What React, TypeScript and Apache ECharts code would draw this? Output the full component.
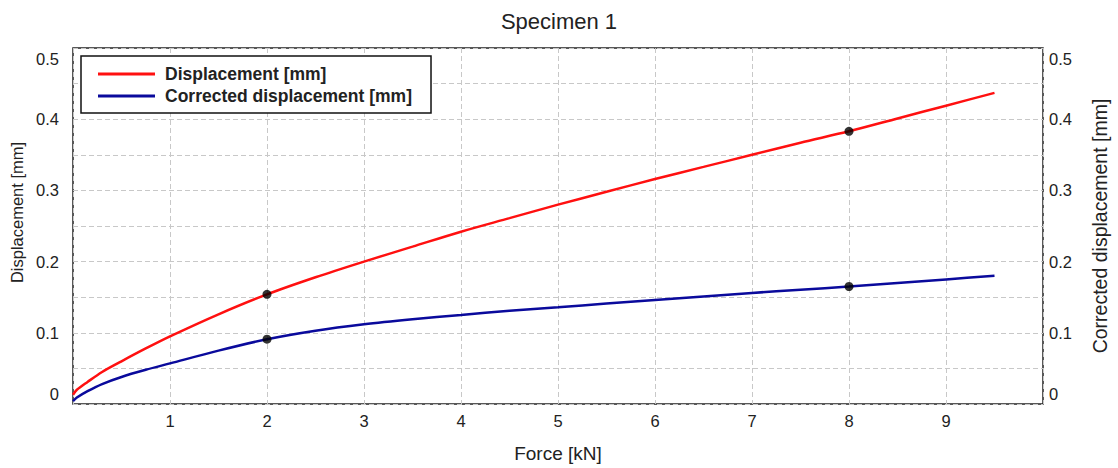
import React, { useEffect, useRef } from 'react';
import * as echarts from 'echarts';

// Force [kN] sample positions along both curves
const forces = [0, 0.04, 0.15, 0.3, 0.5, 0.75, 1, 1.5, 2, 2.5, 3, 3.5, 4, 4.5, 5, 5.5, 6, 6.5, 7, 7.5, 8, 8.5, 9, 9.5];
// Displacement [mm] (red)
const displacement = [0.013, 0.020, 0.031, 0.045, 0.060, 0.078, 0.095, 0.126, 0.154, 0.178, 0.200, 0.221, 0.242, 0.261, 0.280, 0.298, 0.316, 0.333, 0.350, 0.367, 0.383, 0.401, 0.419, 0.437];
// Corrected displacement [mm] (blue)
const corrected = [0.004, 0.009, 0.018, 0.028, 0.038, 0.048, 0.057, 0.075, 0.091, 0.103, 0.112, 0.119, 0.125, 0.131, 0.136, 0.141, 0.146, 0.151, 0.156, 0.1605, 0.165, 0.170, 0.175, 0.180];
// Highlighted points
const markerForces = [2, 8];
const displacementMarkers = [0.154, 0.383];
const correctedMarkers = [0.091, 0.165];

const seriesNames = ['Displacement [mm]', 'Corrected displacement [mm]'];

const FONT = "'Liberation Sans', Arial, Helvetica, sans-serif";
const TEXT = '#222';
const gridLine = { show: true, lineStyle: { color: '#c8c8c8', width: 1, type: [5, 3] as number[] } };

const yLabel = (v: number) => {
  const r = Math.round(v * 100);
  if (r % 10 !== 0) return '';
  if (r === 0) return '0\n ';
  if (r === 50) return ' \n0.5';
  return String(r / 100);
};
const xLabel = (v: number) => (v === 0 || v === 10 ? '' : String(v));

export default function App() {
  const ref = useRef<HTMLDivElement>(null);
  useEffect(() => {
    if (!ref.current) return;
    const chart = echarts.init(ref.current, undefined, { renderer: 'svg' });
    const labelStyle = { fontFamily: FONT, fontSize: 16.5, color: TEXT };
    chart.setOption({
      animation: false,
      backgroundColor: '#fff',
      title: {
        text: 'Specimen 1',
        left: 'center',
        top: 10,
        padding: 0,
        textStyle: { fontFamily: FONT, fontSize: 22, fontWeight: 'normal', color: TEXT },
      },
      grid: {
        left: 73, right: 73, top: 48, bottom: 61,
        show: true, borderColor: '#222', borderWidth: 1.5, backgroundColor: 'transparent',
      },
      legend: {
        data: seriesNames,
        orient: 'vertical',
        left: 81,
        top: 56,
        padding: [7, 19, 6, 17],
        itemGap: 0,
        itemWidth: 57,
        itemHeight: 3,
        icon: 'rect',
        backgroundColor: '#fff',
        borderColor: '#111',
        borderWidth: 1.5,
        borderRadius: 0,
        textStyle: { fontFamily: FONT, fontSize: 17.5, fontWeight: 'bold', color: TEXT, lineHeight: 22, padding: [0, 0, 0, 5] },
      },
      xAxis: {
        type: 'value', min: 0, max: 10, interval: 1,
        name: 'Force [kN]', nameLocation: 'middle', nameGap: 40,
        nameTextStyle: { fontFamily: FONT, fontSize: 19, color: TEXT },
        axisLine: { show: false }, axisTick: { show: false },
        axisLabel: { ...labelStyle, margin: 8, formatter: xLabel, showMinLabel: true, showMaxLabel: true },
        splitLine: gridLine,
      },
      yAxis: [
        {
          type: 'value', min: 0, max: 0.5, interval: 0.05, position: 'left',
          name: 'Displacement [mm]', nameLocation: 'middle', nameGap: 46,
          nameTextStyle: { fontFamily: FONT, fontSize: 16.5, color: TEXT, padding: [0, 0, 0, 27] },
          axisLine: { show: false }, axisTick: { show: false },
          axisLabel: { ...labelStyle, margin: 14, lineHeight: 21, formatter: yLabel, showMinLabel: true, showMaxLabel: true },
          splitLine: gridLine,
        },
        {
          type: 'value', min: 0, max: 0.5, interval: 0.05, position: 'right',
          name: 'Corrected displacement [mm]', nameLocation: 'middle', nameGap: 47,
          nameTextStyle: { fontFamily: FONT, fontSize: 19.5, color: TEXT },
          axisLine: { show: false }, axisTick: { show: false },
          axisLabel: { ...labelStyle, margin: 6, lineHeight: 21, formatter: yLabel, showMinLabel: true, showMaxLabel: true },
          splitLine: { show: false },
        },
      ],
      series: [
        {
          name: seriesNames[0], type: 'line', yAxisIndex: 0,
          data: forces.map((f, i) => [f, displacement[i]]),
          smooth: 0.3, symbol: 'none',
          lineStyle: { color: '#ff1010', width: 2.5 }, itemStyle: { color: '#ff1010' }, z: 3,
        },
        {
          name: seriesNames[1], type: 'line', yAxisIndex: 1,
          data: forces.map((f, i) => [f, corrected[i]]),
          smooth: 0.3, symbol: 'none',
          lineStyle: { color: '#0a0a9c', width: 2.5 }, itemStyle: { color: '#0a0a9c' }, z: 3,
        },
        {
          type: 'scatter', yAxisIndex: 0,
          data: markerForces.map((f, i) => [f, displacementMarkers[i]]),
          symbolSize: 9, itemStyle: { color: '#000' }, z: 5,
        },
        {
          type: 'scatter', yAxisIndex: 1,
          data: markerForces.map((f, i) => [f, correctedMarkers[i]]),
          symbolSize: 9, itemStyle: { color: '#000' }, z: 5,
        },
      ],
    });
    return () => chart.dispose();
  }, []);
  return <div ref={ref} style={{ position: 'fixed', left: 0, top: 0, width: 1118, height: 468 }} />;
}
